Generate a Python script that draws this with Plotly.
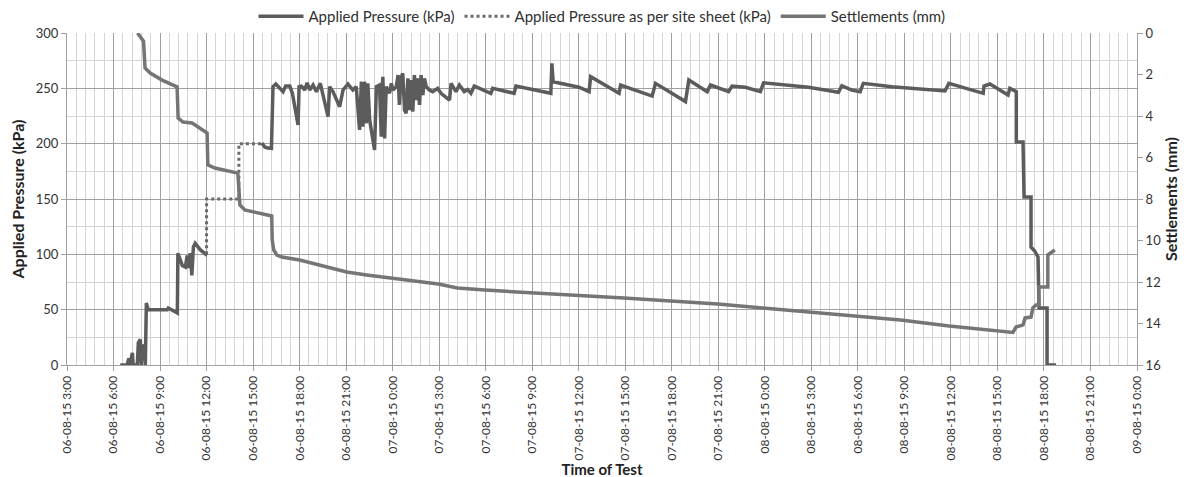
import plotly.graph_objects as go

# ---------------- data ----------------
p_time = [
    "2015-08-06 06:26", "2015-08-06 06:53", "2015-08-06 06:59", "2015-08-06 07:03",
    "2015-08-06 07:13", "2015-08-06 07:16", "2015-08-06 07:32", "2015-08-06 07:36",
    "2015-08-06 07:44", "2015-08-06 07:47", "2015-08-06 07:51", "2015-08-06 07:59",
    "2015-08-06 08:03", "2015-08-06 08:07", "2015-08-06 08:14", "2015-08-06 09:28",
    "2015-08-06 09:32", "2015-08-06 10:07", "2015-08-06 10:09", "2015-08-06 10:18",
    "2015-08-06 10:26", "2015-08-06 10:38", "2015-08-06 10:45", "2015-08-06 10:49",
    "2015-08-06 10:57", "2015-08-06 11:03", "2015-08-06 11:09", "2015-08-06 11:16",
    "2015-08-06 11:36", "2015-08-06 11:47", "2015-08-06 12:02",
    "2015-08-06 13:30",
    "2015-08-06 15:34", "2015-08-06 15:45", "2015-08-06 15:57", "2015-08-06 16:11",
    "2015-08-06 16:17", "2015-08-06 16:28", "2015-08-06 16:56", "2015-08-06 17:06",
    "2015-08-06 17:22", "2015-08-06 17:32", "2015-08-06 17:54", "2015-08-06 17:58",
    "2015-08-06 18:07", "2015-08-06 18:20", "2015-08-06 18:29", "2015-08-06 18:39",
    "2015-08-06 18:52", "2015-08-06 19:05", "2015-08-06 19:20", "2015-08-06 19:30",
    "2015-08-06 19:50", "2015-08-06 19:56", "2015-08-06 20:09", "2015-08-06 20:35",
    "2015-08-06 20:48", "2015-08-06 21:07", "2015-08-06 21:26", "2015-08-06 21:39",
    "2015-08-06 21:52", "2015-08-06 21:59", "2015-08-06 22:05", "2015-08-06 22:11",
    "2015-08-06 22:18", "2015-08-06 22:24", "2015-08-06 22:31", "2015-08-06 22:50",
    "2015-08-06 22:57", "2015-08-06 23:09", "2015-08-06 23:16", "2015-08-06 23:22",
    "2015-08-06 23:29", "2015-08-06 23:35", "2015-08-06 23:48", "2015-08-06 23:55",
    "2015-08-07 00:01", "2015-08-07 00:14", "2015-08-07 00:21", "2015-08-07 00:26",
    "2015-08-07 00:32", "2015-08-07 00:39", "2015-08-07 00:46", "2015-08-07 00:52",
    "2015-08-07 00:59", "2015-08-07 01:05", "2015-08-07 01:12", "2015-08-07 01:18",
    "2015-08-07 01:24", "2015-08-07 01:31", "2015-08-07 01:37", "2015-08-07 01:44",
    "2015-08-07 01:50", "2015-08-07 01:57", "2015-08-07 02:03", "2015-08-07 02:10",
    "2015-08-07 02:22", "2015-08-07 02:35", "2015-08-07 02:54", "2015-08-07 03:07",
    "2015-08-07 03:40", "2015-08-07 03:46", "2015-08-07 04:05", "2015-08-07 04:18",
    "2015-08-07 04:37", "2015-08-07 04:50", "2015-08-07 05:03", "2015-08-07 05:16",
    "2015-08-07 06:20", "2015-08-07 06:27", "2015-08-07 07:50", "2015-08-07 07:57",
    "2015-08-07 10:12", "2015-08-07 10:16", "2015-08-07 10:21", "2015-08-07 12:01",
    "2015-08-07 12:40", "2015-08-07 12:46", "2015-08-07 14:36", "2015-08-07 14:42",
    "2015-08-07 16:44", "2015-08-07 16:57", "2015-08-07 18:53", "2015-08-07 19:06",
    "2015-08-07 20:17", "2015-08-07 20:30", "2015-08-07 21:40", "2015-08-07 21:53",
    "2015-08-07 22:45", "2015-08-07 23:43", "2015-08-07 23:55", "2015-08-08 02:49",
    "2015-08-08 04:45", "2015-08-08 04:58", "2015-08-08 05:36", "2015-08-08 06:09",
    "2015-08-08 06:21", "2015-08-08 08:11", "2015-08-08 11:37", "2015-08-08 11:52",
    "2015-08-08 14:05", "2015-08-08 14:08", "2015-08-08 14:31", "2015-08-08 15:41",
    "2015-08-08 15:48", "2015-08-08 16:13", "2015-08-08 16:13", "2015-08-08 16:39",
    "2015-08-08 16:43", "2015-08-08 17:10", "2015-08-08 17:10", "2015-08-08 17:24",
    "2015-08-08 17:37", "2015-08-08 17:41", "2015-08-08 18:12", "2015-08-08 18:12",
    "2015-08-08 18:47",
]
p_kpa = [
    0, 0, 6, 0,
    11, 0, 0, 20,
    23, 0, 18, 16,
    0, 56, 50, 50,
    51.5, 47, 101, 95,
    90, 88.5, 99, 87.6,
    101, 81, 106.6, 110,
    104, 102, 99,
    None,
    200.6, 197, 196, 195.8,
    251.5, 253.9, 247, 252,
    252, 245.5, 216.9, 251.5,
    252, 248.5, 255, 248.5,
    253, 247, 254.5, 245.5,
    224.4, 251.5, 247, 233.4,
    248.5, 253.9, 248.5, 251.5,
    212.4, 256, 215.3, 256,
    218.4, 254.5, 221.4, 194.3,
    251.5, 253, 206.3, 260.5,
    204.8, 251.5, 245.5, 254.5,
    248.5, 251.5, 262, 235,
    259, 263.6, 230.4, 227.4,
    259, 230.4, 257.5, 228.9,
    262, 239.4, 259, 235,
    262, 244, 259, 251.5,
    248.5, 247, 250, 245.5,
    239.4, 254.5, 247, 253,
    247, 249, 245.5, 252,
    245.5, 250, 245.5, 252,
    245.5, 272.6, 256, 251,
    247, 260.5, 245.5, 253,
    243, 254.5, 238, 257.5,
    247, 253, 247, 252,
    251, 247, 255, 251,
    246.4, 252.4, 248.5, 247,
    254.5, 251.5, 247.6, 254.5,
    245.5, 252, 253.9, 244,
    250, 247, 201.5, 201.5,
    151.8, 151.8, 106.6, 103,
    97.6, 51.5, 51.5, 0,
    0,
]

site_time = ["2015-08-06 12:00", "2015-08-06 12:00", "2015-08-06 14:05",
             "2015-08-06 14:05", "2015-08-06 15:34"]
site_kpa = [100, 150, 150, 200, 200]

s_time = [
    "2015-08-06 07:33", "2015-08-06 07:43", "2015-08-06 07:51", "2015-08-06 07:56",
    "2015-08-06 08:02", "2015-08-06 08:22", "2015-08-06 09:08", "2015-08-06 10:06",
    "2015-08-06 10:10", "2015-08-06 10:29", "2015-08-06 11:04", "2015-08-06 11:35",
    "2015-08-06 12:02", "2015-08-06 12:05", "2015-08-06 12:32", "2015-08-06 14:01",
    "2015-08-06 14:09", "2015-08-06 14:28", "2015-08-06 15:15", "2015-08-06 16:12",
    "2015-08-06 16:14", "2015-08-06 16:20", "2015-08-06 16:32", "2015-08-06 16:51",
    "2015-08-06 18:00", "2015-08-06 21:02", "2015-08-06 22:19", "2015-08-07 00:26",
    "2015-08-07 02:57", "2015-08-07 04:10", "2015-08-07 05:58", "2015-08-07 14:55",
    "2015-08-07 20:58", "2015-08-07 23:52", "2015-08-08 03:01", "2015-08-08 08:45",
    "2015-08-08 11:53", "2015-08-08 15:37", "2015-08-08 16:00", "2015-08-08 16:12",
    "2015-08-08 16:39", "2015-08-08 16:47", "2015-08-08 17:10", "2015-08-08 17:17",
    "2015-08-08 17:29", "2015-08-08 17:40", "2015-08-08 17:40", "2015-08-08 18:15",
    "2015-08-08 18:15", "2015-08-08 18:42",
]
s_mm = [
    0, 0.19, 0.34, 0.39,
    1.69, 1.93, 2.27, 2.60,
    4.10, 4.29, 4.34, 4.58,
    4.82, 6.36, 6.51, 6.75,
    8.29, 8.53, 8.67, 8.82,
    9.98, 10.46, 10.70, 10.80,
    10.94, 11.52, 11.66, 11.86,
    12.10, 12.29, 12.39, 12.77,
    13.06, 13.25, 13.45, 13.83,
    14.12, 14.41, 14.43, 14.17,
    14.07, 13.73, 13.69, 13.25,
    13.11, 13.11, 12.24, 12.24,
    10.70, 10.46,
]

tick_vals = [
    "2015-08-06 03:00", "2015-08-06 06:00", "2015-08-06 09:00", "2015-08-06 12:00",
    "2015-08-06 15:00", "2015-08-06 18:00", "2015-08-06 21:00", "2015-08-07 00:00",
    "2015-08-07 03:00", "2015-08-07 06:00", "2015-08-07 09:00", "2015-08-07 12:00",
    "2015-08-07 15:00", "2015-08-07 18:00", "2015-08-07 21:00", "2015-08-08 00:00",
    "2015-08-08 03:00", "2015-08-08 06:00", "2015-08-08 09:00", "2015-08-08 12:00",
    "2015-08-08 15:00", "2015-08-08 18:00", "2015-08-08 21:00", "2015-08-09 00:00",
]
tick_text = [
    "06-08-15 3:00", "06-08-15 6:00", "06-08-15 9:00", "06-08-15 12:00",
    "06-08-15 15:00", "06-08-15 18:00", "06-08-15 21:00", "07-08-15 0:00",
    "07-08-15 3:00", "07-08-15 6:00", "07-08-15 9:00", "07-08-15 12:00",
    "07-08-15 15:00", "07-08-15 18:00", "07-08-15 21:00", "08-08-15 0:00",
    "08-08-15 3:00", "08-08-15 6:00", "08-08-15 9:00", "08-08-15 12:00",
    "08-08-15 15:00", "08-08-15 18:00", "08-08-15 21:00", "09-08-15 0:00",
]

# ---------------- figure ----------------
FONT = "Lato, 'Open Sans', sans-serif"
AX = "#a0a0a0"
MINOR = "#d4d4d4"

fig = go.Figure()
fig.add_trace(go.Scatter(
    x=p_time, y=p_kpa, mode="lines", name="Applied Pressure (kPa)",
    line=dict(color="#5c5c5c", width=3.5), connectgaps=False))
fig.add_trace(go.Scatter(
    x=site_time, y=site_kpa, mode="lines",
    name="Applied Pressure as per site sheet (kPa)",
    line=dict(color="#6a6a6a", width=3, dash="dot")))
fig.add_trace(go.Scatter(
    x=s_time, y=s_mm, mode="lines", name="Settlements (mm)", yaxis="y2",
    line=dict(color="#757575", width=3.5)))

# the page body adds an 8px offset, so margins are shifted to compensate
fig.update_layout(
    width=1189, height=477,
    margin=dict(l=59, r=60, t=25, b=120, autoexpand=False),
    paper_bgcolor="white", plot_bgcolor="white",
    font=dict(family=FONT, size=13, color="#404040"),
    showlegend=True,
    legend=dict(orientation="h", x=0.5, xanchor="center", y=1.0, yanchor="bottom",
                font=dict(size=15, color="#303030"), traceorder="normal",
                itemwidth=45),
    xaxis=dict(
        type="date",
        range=["2015-08-06 03:00", "2015-08-09 00:00"],
        tickmode="array", tickvals=tick_vals, ticktext=tick_text,
        tickangle=-90, tickfont=dict(size=12, color="#333333"),
        showgrid=True, gridcolor=AX, gridwidth=1,
        showline=True, linecolor=AX, linewidth=1,
        ticks="outside", ticklen=5, tickcolor=AX,
        minor=dict(tick0="2015-08-06 03:00", dtick=36 * 60 * 1000,
                   showgrid=True, gridcolor=MINOR, gridwidth=1, ticks=""),
        title=dict(text="<b>Time of Test</b>", font=dict(size=15, color="#222222"),
                   standoff=4),
        zeroline=False,
    ),
    yaxis=dict(
        range=[0, 300], dtick=50, tick0=0,
        showgrid=True, gridcolor=AX, gridwidth=1,
        showline=True, linecolor=AX, linewidth=1,
        ticks="outside", ticklen=5, tickcolor=AX,
        minor=dict(dtick=25, showgrid=True, gridcolor=MINOR, gridwidth=1),
        tickfont=dict(size=13, color="#333333"),
        title=dict(text="<b>Applied Pressure (kPa)</b>",
                   font=dict(size=16, color="#222222"), standoff=8),
        zeroline=False,
    ),
    yaxis2=dict(
        overlaying="y", side="right", range=[16, 0], dtick=2, tick0=0,
        showgrid=False, showline=True, linecolor=AX, linewidth=1,
        ticks="outside", ticklen=5, tickcolor=AX,
        tickfont=dict(size=13, color="#333333"),
        title=dict(text="<b>Settlements (mm)</b>",
                   font=dict(size=16, color="#222222"), standoff=4),
        zeroline=False,
    ),
)

fig.write_html("out.html")
